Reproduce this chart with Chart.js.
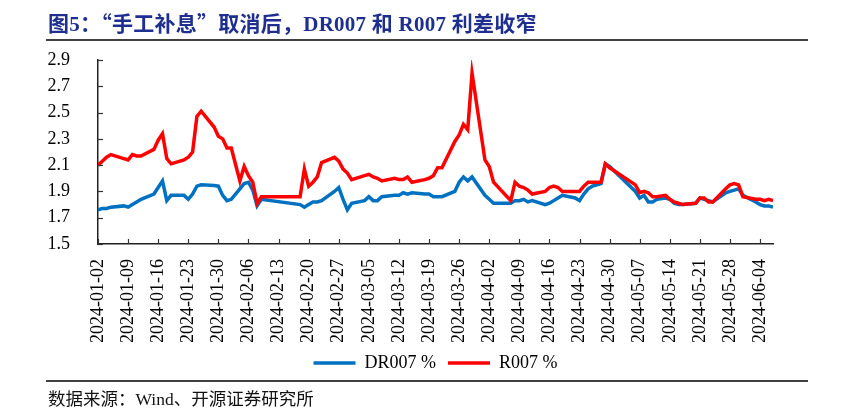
<!DOCTYPE html>
<html lang="zh-CN">
<head>
    <meta charset="UTF-8">
    <title>DR007 和 R007 利差</title>
    <script src="https://cdn.jsdelivr.net/npm/chart.js"></script>
    <style>
      body { margin: 0; background: #fff; }
      .wrap { position: relative; width: 846px; height: 416px; overflow: hidden; }
      #chart { position: absolute; left: 0; top: 0; }
      .title {
        position: absolute; left: 48px; top: 11px; margin: 0;
        font: bold 21px "Noto Sans CJK SC", sans-serif; line-height: 22px; letter-spacing: 0.25px;
        color: #1f2f8f; white-space: nowrap;
      }
      .lat { font-family: "Liberation Serif", serif; }
      .rule { position: absolute; left: 46px; width: 762px; height: 2px; background: #404040; }
      .source {
        position: absolute; left: 48px; top: 387px;
        font: 17.5px "Noto Sans CJK SC", sans-serif; line-height: 22px; color: #111; white-space: nowrap;
      }
    </style>
</head>
<body>
  <div class="wrap">
    <canvas id="chart" width="846" height="416"></canvas>
    <h1 class="title">图<span class="lat">5</span>：“手工补息”取消后，<span class="lat">DR007 </span>和<span class="lat"> R007 </span>利差收窄</h1>
    <div class="rule" style="top: 39px;"></div>
    <div class="rule" style="top: 380px;"></div>
    <div class="source">数据来源：<span class="lat">Wind</span>、开源证券研究所</div>
  </div>
  <script>
    // trading days (incl. weekend make-up days)
    const dates = [
      '2024-01-02','2024-01-03','2024-01-04','2024-01-05','2024-01-08','2024-01-09','2024-01-10','2024-01-11','2024-01-12',
      '2024-01-15','2024-01-16','2024-01-17','2024-01-18','2024-01-19','2024-01-22','2024-01-23','2024-01-24','2024-01-25','2024-01-26',
      '2024-01-29','2024-01-30','2024-01-31','2024-02-01','2024-02-02','2024-02-04','2024-02-05','2024-02-06','2024-02-07','2024-02-08',
      '2024-02-09','2024-02-18','2024-02-19','2024-02-20','2024-02-21','2024-02-22','2024-02-23','2024-02-26','2024-02-27','2024-02-28',
      '2024-02-29','2024-03-01','2024-03-04','2024-03-05','2024-03-06','2024-03-07','2024-03-08','2024-03-11','2024-03-12','2024-03-13',
      '2024-03-14','2024-03-15','2024-03-18','2024-03-19','2024-03-20','2024-03-21','2024-03-22','2024-03-25','2024-03-26','2024-03-27',
      '2024-03-28','2024-03-29','2024-04-01','2024-04-02','2024-04-03','2024-04-07','2024-04-08','2024-04-09','2024-04-10','2024-04-11',
      '2024-04-12','2024-04-15','2024-04-16','2024-04-17','2024-04-18','2024-04-19','2024-04-22','2024-04-23','2024-04-24','2024-04-25',
      '2024-04-26','2024-04-28','2024-04-29','2024-04-30','2024-05-06','2024-05-07','2024-05-08','2024-05-09','2024-05-10','2024-05-11',
      '2024-05-13','2024-05-14','2024-05-15','2024-05-16','2024-05-17','2024-05-20','2024-05-21','2024-05-22','2024-05-23','2024-05-24',
      '2024-05-27','2024-05-28','2024-05-29','2024-05-30','2024-05-31','2024-06-03','2024-06-04','2024-06-05','2024-06-06','2024-06-07'
    ];
    const dr007 = [
      1.76,1.77,1.77,1.78,1.79,1.78,1.80,1.82,1.84,
      1.88,1.93,1.98,1.83,1.87,1.87,1.84,1.88,1.94,1.95,
      1.945,1.94,1.87,1.83,1.84,1.92,1.96,1.97,1.91,1.79,
      1.84,1.80,1.78,1.80,1.82,1.82,1.83,1.90,1.93,1.84,
      1.76,1.81,1.83,1.86,1.83,1.83,1.86,1.87,1.87,1.89,
      1.88,1.89,1.88,1.88,1.86,1.86,1.86,1.90,1.97,2.01,
      1.98,2.01,1.87,1.84,1.81,1.81,1.83,1.83,1.84,1.82,
      1.83,1.80,1.81,1.83,1.85,1.87,1.85,1.83,1.88,1.92,
      1.94,1.96,2.11,2.09,1.90,1.85,1.87,1.82,1.82,1.84,
      1.85,1.84,1.81,1.80,1.80,1.81,1.85,1.84,1.83,1.82,
      1.89,1.90,1.91,1.92,1.87,1.82,1.80,1.79,1.79,1.78
    ];
    const r007 = [
      2.10,2.13,2.16,2.18,2.15,2.14,2.18,2.17,2.17,
      2.22,2.29,2.34,2.15,2.11,2.14,2.16,2.20,2.47,2.51,
      2.39,2.32,2.30,2.23,2.23,1.98,2.09,2.02,1.97,1.81,
      1.86,1.86,2.07,1.94,1.97,2.01,2.12,2.16,2.13,2.07,
      2.04,1.99,2.02,2.03,2.01,2.00,1.98,2.00,1.99,1.99,
      2.01,1.97,1.99,2.00,2.02,2.08,2.08,2.28,2.33,2.41,
      2.37,2.80,2.14,2.09,1.97,1.83,1.97,1.94,1.93,1.91,
      1.88,1.90,1.93,1.94,1.93,1.90,1.90,1.90,1.94,1.97,
      1.97,1.97,2.11,2.08,1.95,1.89,1.90,1.89,1.86,1.86,
      1.87,1.84,1.82,1.81,1.80,1.81,1.85,1.85,1.82,1.82,
      1.92,1.95,1.96,1.95,1.86,1.84,1.84,1.83,1.84,1.83
    ];
    const yTicks = { min: 1.5, max: 2.9, step: 0.2 };

    const DAY = 86400000;
    const start = Date.parse(dates[0]);
    const dayOf = d => Math.round((Date.parse(d) - start) / DAY);
    const lastDay = dayOf(dates[dates.length - 1]);

    Chart.defaults.font.family = "'Liberation Serif', 'Times New Roman', serif";
    Chart.defaults.font.size = 18;
    Chart.defaults.color = '#000';

    // small inward tick marks on both axes
    const tickMarks = {
      id: 'tickMarks',
      afterDraw(chart) {
        const { ctx, chartArea, scales: { x, y } } = chart;
        ctx.save();
        ctx.strokeStyle = '#333';
        ctx.lineWidth = 1.2;
        x.ticks.forEach(t => {
          const px = Math.round(x.getPixelForValue(t.value)) + 0.5;
          ctx.beginPath(); ctx.moveTo(px, chartArea.bottom); ctx.lineTo(px, chartArea.bottom - 5); ctx.stroke();
        });
        y.ticks.forEach(t => {
          const py = Math.round(y.getPixelForValue(t.value)) + 0.5;
          ctx.beginPath(); ctx.moveTo(chartArea.left, py); ctx.lineTo(chartArea.left + 5, py); ctx.stroke();
        });
        ctx.restore();
      }
    };

    new Chart(document.getElementById('chart'), {
      type: 'line',
      data: {
        datasets: [
          {
            label: 'DR007 %',
            data: dates.map((d, i) => ({ x: dayOf(d), y: dr007[i] })),
            borderColor: '#0070c0',
            backgroundColor: '#0070c0',
            borderWidth: 3.5,
            pointRadius: 0,
            tension: 0,
            order: 1
          },
          {
            label: 'R007 %',
            data: dates.map((d, i) => ({ x: dayOf(d), y: r007[i] })),
            borderColor: '#ff0000',
            backgroundColor: '#ff0000',
            borderWidth: 3.5,
            pointRadius: 0,
            tension: 0,
            order: 0
          }
        ]
      },
      options: {
        responsive: false,
        animation: false,
        layout: { padding: { top: 60, right: 73, bottom: 34, left: 0 } },
        plugins: {
          title: { display: false },
          tooltip: { enabled: false },
          legend: {
            position: 'bottom',
            fullSize: false,
            labels: {
              usePointStyle: true,
              pointStyle: 'line',
              pointStyleWidth: 42,
              boxHeight: 4,
              padding: 12,
              color: '#000',
              font: { size: 18 },
              sort: (a, b) => a.datasetIndex - b.datasetIndex
            }
          }
        },
        scales: {
          x: {
            type: 'linear',
            min: 0,
            max: lastDay,
            grid: { display: false },
            border: { display: true, color: '#222', width: 1.5 },
            ticks: {
              stepSize: 7,
              includeBounds: false,
              autoSkip: false,
              minRotation: 90,
              maxRotation: 90,
              padding: 7,
              callback: v => new Date(start + v * DAY).toISOString().slice(0, 10)
            },
            afterFit: s => { s.height = 98; }
          },
          y: {
            min: yTicks.min,
            max: yTicks.max,
            grid: { display: false },
            border: { display: true, color: '#222', width: 1.5 },
            ticks: {
              stepSize: yTicks.step,
              padding: 20,
              callback: v => v.toFixed(1)
            },
            afterFit: s => { s.width = 98; }
          }
        }
      },
      plugins: [tickMarks]
    });
  </script>
</body>
</html>
